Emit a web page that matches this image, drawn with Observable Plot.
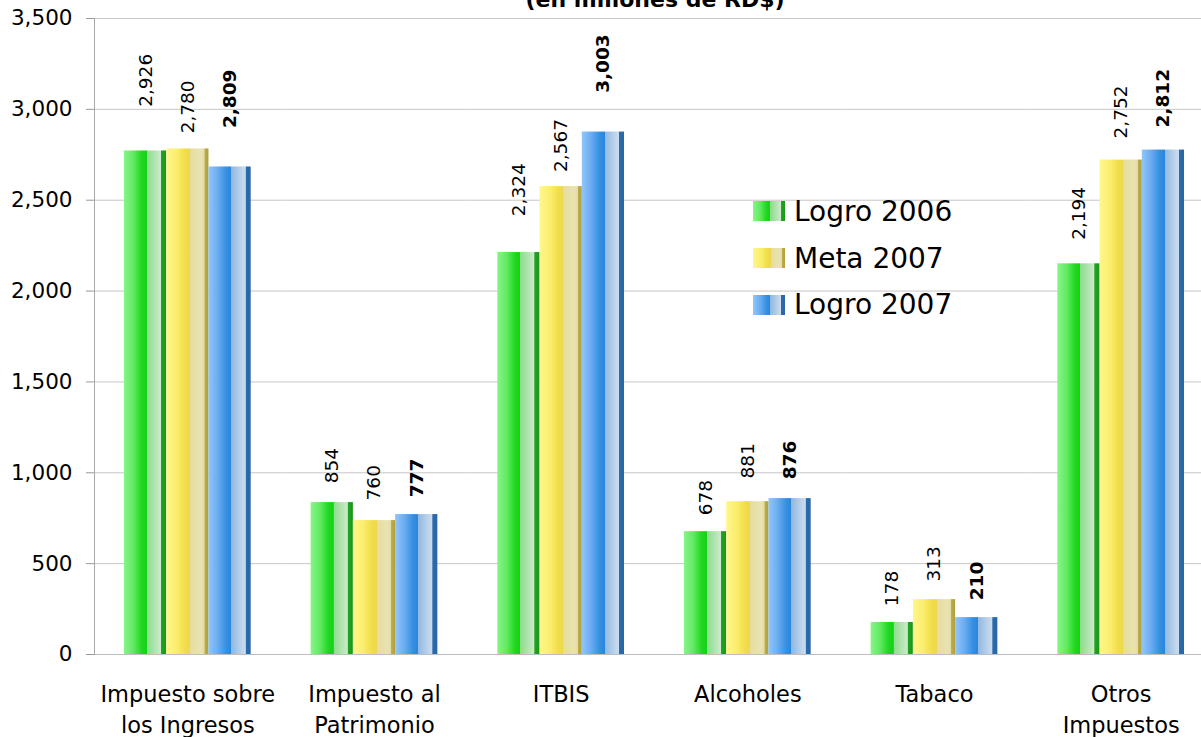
<!DOCTYPE html>
<html>
<head>
<meta charset="utf-8">
<script src="https://cdn.jsdelivr.net/npm/d3@7"></script>
<script src="https://cdn.jsdelivr.net/npm/@observablehq/plot@0.6"></script>
<style>
  html, body { margin: 0; padding: 0; background: #fff; overflow: hidden; }
  #wrap { position: relative; width: 1201px; height: 737px; overflow: hidden; font-family: "DejaVu Sans", sans-serif; }
  #title { position: absolute; left: 455px; width: 400px; top: -11px; text-align: center; font-weight: bold; font-size: 22px; line-height: 22px; color: #000; white-space: nowrap; }
  #legend { position: absolute; left: 753px; top: 188px; font-size: 28px; color: #000; }
  #legend .row { display: flex; align-items: center; height: 46.7px; }
  #legend .sw { width: 32px; height: 20px; margin-right: 9px; }
</style>
</head>
<body>
<div id="wrap">
  <div id="chart"></div>
  <div id="title">(en millones de RD$)</div>
  <div id="legend"></div>
</div>
<script>
// ---- data ----
const categories = ["Impuesto sobre los Ingresos", "Impuesto al Patrimonio", "ITBIS", "Alcoholes", "Tabaco", "Otros Impuestos"];
const tickLabels = ["Impuesto sobre\nlos Ingresos", "Impuesto al\nPatrimonio", "ITBIS", "Alcoholes", "Tabaco", "Otros\nImpuestos"];
const series = ["Logro 2006", "Meta 2007", "Logro 2007"];
// bar heights as drawn in the picture
const barsLogro2006 = [2771, 836, 2212, 676, 176, 2150];
const barsMeta2007  = [2782, 737, 2575, 841, 302, 2721];
const barsLogro2007 = [2683, 770, 2875, 858, 203, 2776];
// printed data labels
const labelsLogro2006 = [2926, 854, 2324, 678, 178, 2194];
const labelsMeta2007  = [2780, 760, 2567, 881, 313, 2752];
const labelsLogro2007 = [2809, 777, 3003, 876, 210, 2812];
const yTicks = [0, 500, 1000, 1500, 2000, 2500, 3000, 3500];

const barSets = [barsLogro2006, barsMeta2007, barsLogro2007];
const labelSets = [labelsLogro2006, labelsMeta2007, labelsLogro2007];
const rows = [];
series.forEach((s, si) => categories.forEach((c, ci) => {
  rows.push({category: c, series: s, value: barSets[si][ci], label: labelSets[si][ci]});
}));

const gradIds = ["gGreen", "gYellow", "gBlue"];
const gradStops = {
  gGreen:  [[0,"#88f588"],[0.22,"#62ea62"],[0.42,"#1fd81f"],[0.54,"#16d016"],[0.545,"#8ddc8d"],[0.8,"#bde7bd"],[0.87,"#cdeccd"],[0.885,"#23a423"],[1,"#1a961a"]],
  gYellow: [[0,"#fff68e"],[0.25,"#fbee6c"],[0.45,"#f1dd48"],[0.56,"#ecd850"],[0.565,"#e6dd9c"],[0.82,"#e9e3b2"],[0.9,"#e2dbaa"],[0.915,"#bcad4a"],[1,"#b0a03c"]],
  gBlue:   [[0,"#92c6f9"],[0.22,"#6aacf2"],[0.42,"#3590e2"],[0.54,"#2a86dc"],[0.545,"#92b8e2"],[0.8,"#bfd5ec"],[0.875,"#cadcef"],[0.89,"#2c6cac"],[1,"#2866a6"]]
};

const fmt = d3.format(",");

const plot = Plot.plot({
  width: 1214,
  height: 737,
  marginLeft: 94,
  marginRight: 0,
  marginTop: 18,
  marginBottom: 83,
  style: {fontFamily: "DejaVu Sans, sans-serif", color: "black", background: "white", maxWidth: "none", overflow: "visible"},
  fx: {domain: categories, padding: 0, round: false},
  x: {domain: series, paddingInner: 0, paddingOuter: 0.71, round: false, axis: null},
  y: {domain: [0, 3500], axis: null},
  color: {domain: series, range: gradIds.map(id => `url(#${id})`)},
  marks: [
    Plot.gridY(yTicks, {stroke: "#c6c6c6", strokeOpacity: 1}),
    Plot.ruleY([0], {stroke: "#bdbdbd"}),
    Plot.barY(rows, {fx: "category", x: "series", y: "value", fill: "series"}),
    Plot.text(rows, {filter: d => d.series !== "Logro 2007", fx: "category", x: "series", y: "label", text: d => fmt(d.label), rotate: -90, textAnchor: "start", dy: -16, fontSize: 18.5, fill: "black"}),
    Plot.text(rows, {filter: d => d.series === "Logro 2007", fx: "category", x: "series", y: "label", text: d => fmt(d.label), rotate: -90, textAnchor: "start", dy: -16, fontSize: 18.5, fontWeight: "bold", fill: "black"}),
    Plot.frame({anchor: "left", facetAnchor: "left", stroke: "#a8a8a8"}),
    Plot.axisY(yTicks, {tickSize: 8, text: null, stroke: "#999"}),
    Plot.axisY(yTicks, {tickSize: 0, tickPadding: 22, tickFormat: fmt, fontSize: 21.5, fill: "black", label: null}),
    Plot.axisFx({anchor: "bottom", tickSize: 0, tickPadding: 25, fontSize: 22.5, lineHeight: 1.38, fill: "black", label: null,
      tickFormat: d => tickLabels[categories.indexOf(d)]})
  ]
});

// gradient definitions
const svgSel = d3.select(plot.tagName.toLowerCase() === "svg" ? plot : plot.querySelector("svg"));
const defs = svgSel.insert("defs", ":first-child");
for (const id of gradIds) {
  const g = defs.append("linearGradient").attr("id", id).attr("x1", 0).attr("x2", 1).attr("y1", 0).attr("y2", 0);
  for (const [o, c] of gradStops[id]) g.append("stop").attr("offset", o).attr("stop-color", c);
}
document.getElementById("chart").appendChild(plot);

// legend
const legend = d3.select("#legend");
series.forEach((s, i) => {
  const row = legend.append("div").attr("class", "row");
  const stops = gradStops[gradIds[i]].map(([o, c]) => `${c} ${o * 100}%`).join(", ");
  row.append("div").attr("class", "sw").style("background", `linear-gradient(to right, ${stops})`);
  row.append("span").text(s);
});
</script>
</body>
</html>
